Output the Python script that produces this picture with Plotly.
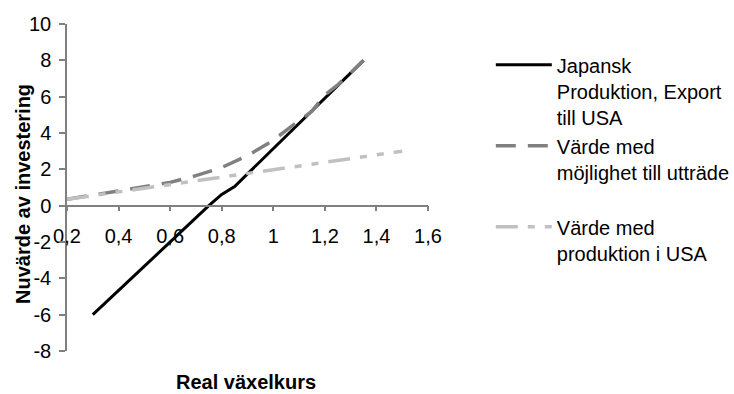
import plotly.graph_objects as go

# Data
x_jp = [0.30, 0.35, 0.40, 0.45, 0.50, 0.55, 0.60, 0.65, 0.70, 0.75, 0.80, 0.85,
        0.90, 0.95, 1.00, 1.05, 1.10, 1.15, 1.20, 1.25, 1.30, 1.35]
y_jp = [-6.0, -5.33, -4.67, -4.0, -3.33, -2.67, -2.0, -1.33, -0.67, 0.0, 0.62, 1.05,
        1.75, 2.45, 3.15, 3.85, 4.55, 5.25, 5.95, 6.65, 7.32, 8.0]

x_opt = [0.20, 0.30, 0.40, 0.50, 0.60, 0.70, 0.80, 0.90, 1.00, 1.05, 1.10, 1.15,
         1.20, 1.25, 1.30, 1.35]
y_opt = [0.35, 0.58, 0.80, 1.02, 1.28, 1.65, 2.10, 2.75, 3.60, 4.15, 4.65, 5.20,
         6.10, 6.65, 7.30, 8.0]

x_usa = [0.2, 0.3, 0.4, 0.5, 0.6, 0.7, 0.8, 0.9, 1.0, 1.1, 1.2, 1.3, 1.4, 1.5]
y_usa = [0.35, 0.55, 0.75, 0.95, 1.15, 1.35, 1.55, 1.76, 1.97, 2.17, 2.38, 2.59, 2.80, 3.0]

names = ["Japansk<br>Produktion, Export<br>till USA",
         "Värde med<br>möjlighet till utträde<br> ",
         "Värde med<br>produktion i USA"]

x_tickvals = [0.2, 0.4, 0.6, 0.8, 1.0, 1.2, 1.4, 1.6]
x_ticktext = ["0,2", "0,4", "0,6", "0,8", "1", "1,2", "1,4", "1,6"]
y_tickvals = [-8, -6, -4, -2, 0, 2, 4, 6, 8, 10]
y_ticktext = ["-8", "-6", "-4", "-2", "0", "2", "4", "6", "8", "10"]

FONT = "Liberation Sans, Arial, sans-serif"

fig = go.Figure()
fig.add_trace(go.Scatter(x=x_jp, y=y_jp, mode="lines", name=names[0],
                         line=dict(color="#000000", width=3)))
fig.add_trace(go.Scatter(x=x_opt, y=y_opt, mode="lines", name=names[1],
                         line=dict(color="#808080", width=3.5, dash="20px,12px")))
fig.add_trace(go.Scatter(x=x_usa, y=y_usa, mode="lines", name=names[2],
                         line=dict(color="#c0c0c0", width=3.5,
                                   dash="22px,10px,7px,10px,7px,10px")))

fig.update_layout(
    width=734, height=394,
    margin=dict(l=67, r=306, t=24, b=43, autoexpand=False),
    paper_bgcolor="white", plot_bgcolor="white",
    font=dict(family=FONT, size=20, color="#000000"),
    showlegend=True,
    legend=dict(x=1.174, y=0.935, xanchor="left", yanchor="top",
                font=dict(size=20), valign="top", itemwidth=56,
                bgcolor="rgba(0,0,0,0)"),
    xaxis=dict(range=[0.2, 1.6], anchor="free", position=8/18,
               showline=True, linecolor="#808080", linewidth=1.5,
               ticks="outside", ticklen=5, tickcolor="#808080", tickwidth=1.5,
               tickvals=x_tickvals, ticktext=x_ticktext,
               ticklabelstandoff=8,
               showgrid=False, zeroline=False),
    yaxis=dict(range=[-8, 10],
               showline=True, linecolor="#808080", linewidth=1.5,
               ticks="outside", ticklen=6, tickcolor="#808080", tickwidth=1.5,
               tickvals=y_tickvals, ticktext=y_ticktext,
               ticklabelstandoff=4,
               showgrid=False, zeroline=False),
    annotations=[
        dict(text="<b>Real växelkurs</b>", xref="paper", yref="paper",
             x=0.496, y=-0.095, xanchor="center", yanchor="middle",
             showarrow=False, font=dict(size=20)),
        dict(text="<b>Nuvärde av investering</b>", xref="paper", yref="paper",
             x=-0.122, y=0.48, xanchor="center", yanchor="middle",
             textangle=-90, showarrow=False, font=dict(size=20)),
    ],
)

fig.write_html("out.html")
